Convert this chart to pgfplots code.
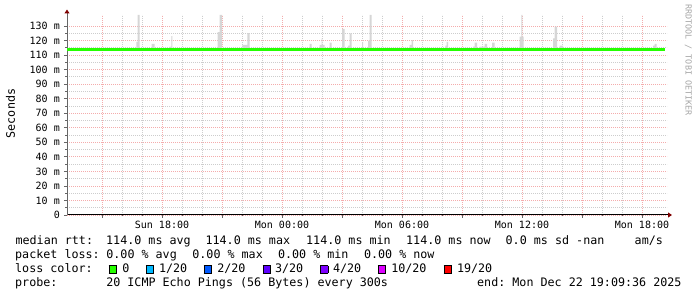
\documentclass[border=0pt]{standalone}
\usepackage{fontspec}
\setmainfont{DejaVu Sans Mono}
\usepackage{pgfplots}
\pgfplotsset{compat=1.18}
\usetikzlibrary{arrows.meta}
\definecolor{mgrid}{RGB}{244,172,172}
\definecolor{sgrid}{RGB}{205,205,205}
\definecolor{arrowred}{RGB}{128,0,0}
\definecolor{smoke}{RGB}{214,214,214}
\definecolor{loss0}{HTML}{26FF00}
\definecolor{loss1}{HTML}{00B8FF}
\definecolor{loss2}{HTML}{0059FF}
\definecolor{loss3}{HTML}{5E00FF}
\definecolor{loss4}{HTML}{7E00FF}
\definecolor{loss10}{HTML}{DD00FF}
\definecolor{loss19}{HTML}{FF0000}
\newcommand{\sq}[1]{{\setlength{\fboxsep}{0pt}\setlength{\fboxrule}{0.7bp}\fcolorbox{black}{#1}{\rule{0pt}{6.8bp}\rule{6.8bp}{0pt}}}}
\newcommand{\legfont}{\fontsize{11.7bp}{14bp}\selectfont}
\begin{document}
\frenchspacing
\begin{tikzpicture}
\path[use as bounding box] (0bp,0bp) rectangle (697bp,297bp);
\begin{axis}[
  at={(67bp,82bp)}, anchor=south west,
  scale only axis, width=600bp, height=200bp,
  xmin=-10.75, xmax=19.25, ymin=0, ymax=137.5,
  axis lines=left,
  x axis line style={black, line width=1bp, shorten >=-5bp, -{Triangle[length=4bp,width=5bp,color=arrowred]}},
  y axis line style={black!60, line width=1bp, shorten >=-5.5bp, -{Triangle[length=4bp,width=5bp,color=arrowred]}},
  xtick={-9,-6,...,18},
  xticklabels={,Sun 18:00,,Mon 00:00,,Mon 06:00,,Mon 12:00,,Mon 18:00},
  minor x tick num=2,
  ytick={0,10,...,130},
  yticklabels={0,10 m,20 m,30 m,40 m,50 m,60 m,70 m,80 m,90 m,100 m,110 m,120 m,130 m},
  minor y tick num=1,
  grid=both,
  major grid style={mgrid, line width=0.8bp, dash pattern=on 1bp off 1bp},
  minor grid style={sgrid, line width=0.8bp, dash pattern=on 1bp off 1bp},
  tick align=outside,
  major tick length=3bp, minor tick length=1.5bp,
  tick style={black!60, line width=0.7bp},
  tick label style={font=\fontsize{10bp}{12bp}\selectfont},
  yticklabel style={anchor=east, inner sep=0pt, xshift=-4bp},
  xticklabel style={anchor=base, inner sep=0pt, yshift=-10.5bp},
]
% smoke (spread of the 20 pings above the median)
\addplot[fill=smoke, draw=none] coordinates {
(-7.28,114)(-7.28,119)(-7.215,119)(-7.215,137.5)(-7.115,137.5)(-7.115,114)
(-6.515,114)(-6.515,117.6)(-6.365,117.6)(-6.365,114)
(-5.615,114)(-5.615,115.8)(-5.53,115.8)(-5.53,123)(-5.48,123)(-5.48,114)
(-3.215,114)(-3.215,125.8)(-3.115,125.8)(-3.115,137.5)(-3.0,137.5)(-3.0,114)
(-1.98,114)(-1.98,116.9)(-1.73,116.9)(-1.73,125.1)(-1.615,125.1)(-1.615,114)
(1.385,114)(1.385,117.6)(1.485,117.6)(1.485,114)
(1.885,114)(1.885,116.9)(1.985,116.9)(1.985,121.5)(2.02,121.5)(2.02,116.9)(2.135,116.9)(2.135,114)
(2.385,114)(2.385,118.5)(2.485,118.5)(2.485,114)
(3.0,114)(3.0,127.9)(3.135,127.9)(3.135,114)
(3.3,114)(3.3,116.4)(3.385,116.4)(3.385,124.9)(3.485,124.9)(3.485,114)
(4.0,114)(4.0,118.7)(4.05,118.7)(4.05,114)
(4.3,114)(4.3,119.8)(4.385,119.8)(4.385,137.5)(4.485,137.5)(4.485,114)
(6.385,114)(6.385,116.9)(6.485,116.9)(6.485,120.3)(6.55,120.3)(6.55,114)
(8.17,114)(8.17,116.4)(8.235,116.4)(8.235,119.1)(8.3,119.1)(8.3,114)
(9.55,114)(9.55,115.8)(9.635,115.8)(9.635,118.5)(9.75,118.5)(9.75,114)
(9.885,114)(9.885,115.8)(10.135,115.8)(10.135,117.6)(10.25,117.6)(10.25,114)
(10.5,114)(10.5,118.5)(10.635,118.5)(10.635,114)
(11.885,114)(11.885,122.6)(11.97,122.6)(11.97,137.5)(12.02,137.5)(12.02,122.6)(12.085,122.6)(12.085,114)
(13.55,114)(13.55,121.5)(13.635,121.5)(13.635,129.5)(13.75,129.5)(13.75,114)
(13.885,114)(13.885,116.4)(14.05,116.4)(14.05,114)
(18.55,114)(18.55,116.4)(18.635,116.4)(18.635,117.6)(18.735,117.6)(18.735,114)
};
% median rtt, loss 0
\addplot[loss0, line width=3bp] coordinates {(-10.75,114)(19.13,114)};
\end{axis}
% axis title and watermark
\node[rotate=90, font=\legfont] at (10.5bp,183.5bp) {Seconds};
\node[rotate=-90, font=\fontsize{8.4bp}{10bp}\selectfont, text=black!35] at (688.3bp,237bp) {RRDTOOL / TOBI OETIKER};
% legend text
\begin{scope}[every node/.style={anchor=base west, inner sep=0pt, font=\legfont}]
\node at (15.4bp,52.3bp) {median~rtt:};
\node at (106.0bp,52.3bp) {114.0~ms~avg};
\node at (205.4bp,52.3bp) {114.0~ms~max};
\node at (306.0bp,52.3bp) {114.0~ms~min};
\node at (406.0bp,52.3bp) {114.0~ms~now};
\node at (505.5bp,52.3bp) {0.0~ms~sd};
\node at (576.0bp,52.3bp) {-nan};
\node at (634.5bp,52.3bp) {am/s};
\node at (15.0bp,38.3bp) {packet~loss:};
\node at (106.2bp,38.3bp) {0.00~\%~avg};
\node at (192.2bp,38.3bp) {0.00~\%~max};
\node at (277.9bp,38.3bp) {0.00~\%~min};
\node at (363.9bp,38.3bp) {0.00~\%~now};
\node at (15.0bp,24.3bp) {loss~color:};
\node at (108.3bp,24.3bp) {\sq{loss0}};
\node at (122.1bp,24.3bp) {0};
\node at (145.7bp,24.3bp) {\sq{loss1}};
\node at (158.8bp,24.3bp) {1/20};
\node at (203.3bp,24.3bp) {\sq{loss2}};
\node at (217.1bp,24.3bp) {2/20};
\node at (262.3bp,24.3bp) {\sq{loss3}};
\node at (274.8bp,24.3bp) {3/20};
\node at (320bp,24.3bp) {\sq{loss4}};
\node at (332.8bp,24.3bp) {4/20};
\node at (377.7bp,24.3bp) {\sq{loss10}};
\node at (391.1bp,24.3bp) {10/20};
\node at (443.3bp,24.3bp) {\sq{loss19}};
\node at (456.8bp,24.3bp) {19/20};
\node at (15.0bp,10.3bp) {probe:};
\node at (106.1bp,10.3bp) {20~ICMP~Echo~Pings~(56~Bytes)~every~300s};
\node at (477.0bp,10.3bp) {end:~Mon~Dec~22~19:09:36~2025};
\end{scope}
\end{tikzpicture}
\end{document}
